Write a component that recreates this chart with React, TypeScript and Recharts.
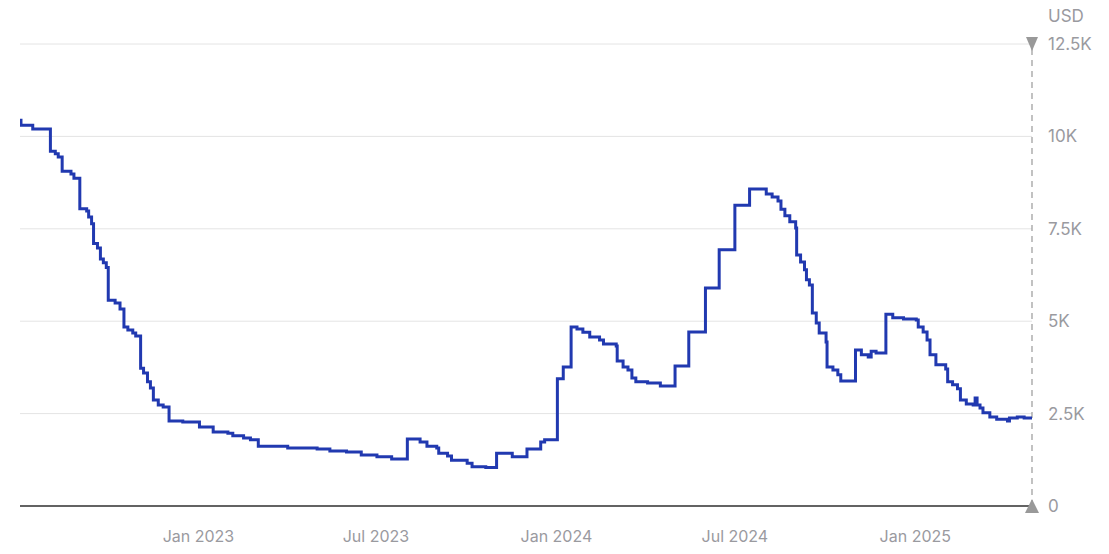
import React from 'react';
import { LineChart, Line, XAxis, YAxis, CartesianGrid, ReferenceDot, ReferenceLine } from 'recharts';

const dates = [
  '2022-07-03','2022-07-04','2022-07-16','2022-08-03','2022-08-08','2022-08-11','2022-08-15','2022-08-24','2022-08-27',
  '2022-09-02','2022-09-09','2022-09-11','2022-09-14','2022-09-16','2022-09-20','2022-09-23','2022-09-26','2022-09-29',
  '2022-10-01','2022-10-08','2022-10-13','2022-10-17','2022-10-21','2022-10-26','2022-10-29','2022-11-03','2022-11-06',
  '2022-11-10','2022-11-13','2022-11-16','2022-11-21','2022-11-26','2022-12-02','2022-12-16','2023-01-02','2023-01-16',
  '2023-01-31','2023-02-05','2023-02-16','2023-02-23','2023-03-03','2023-04-02','2023-05-02','2023-05-15','2023-06-01',
  '2023-06-16','2023-07-02','2023-07-17','2023-08-02','2023-08-15','2023-08-22','2023-09-01','2023-09-03','2023-09-12',
  '2023-09-16','2023-10-02','2023-10-07','2023-10-21','2023-11-01','2023-11-17','2023-12-02','2023-12-16','2023-12-20',
  '2024-01-02','2024-01-08','2024-01-16','2024-01-22','2024-01-28','2024-02-04','2024-02-14','2024-02-18','2024-03-02',
  '2024-03-03','2024-03-09','2024-03-14','2024-03-18','2024-03-22','2024-04-03','2024-04-16','2024-05-01','2024-05-15',
  '2024-06-01','2024-06-15','2024-07-01','2024-07-16','2024-08-02','2024-08-08','2024-08-14','2024-08-17','2024-08-21',
  '2024-08-26','2024-09-01','2024-09-02','2024-09-06','2024-09-10','2024-09-12','2024-09-15','2024-09-18','2024-09-22',
  '2024-09-25','2024-10-02','2024-10-03','2024-10-09','2024-10-14','2024-10-17','2024-11-01','2024-11-07','2024-11-14',
  '2024-11-17','2024-11-22','2024-12-02','2024-12-09','2024-12-20','2025-01-02','2025-01-04','2025-01-09','2025-01-13',
  '2025-01-16','2025-01-22','2025-02-01','2025-02-03','2025-02-08','2025-02-13','2025-02-16','2025-02-22','2025-03-01',
  '2025-03-03','2025-03-05','2025-03-08','2025-03-11','2025-03-18','2025-03-25','2025-04-05','2025-04-07','2025-04-15',
  '2025-04-22','2025-04-30',
];

const prices = [
  10440,10300,10200,9600,9530,9440,9060,8980,8870,
  8040,7980,7820,7640,7100,6980,6680,6580,6450,
  5570,5490,5330,4840,4760,4680,4600,3730,3600,
  3360,3190,2870,2730,2680,2300,2270,2140,2000,
  1970,1900,1840,1790,1620,1570,1540,1490,1460,
  1380,1330,1270,1810,1730,1620,1570,1430,1350,
  1240,1160,1060,1040,1430,1330,1540,1730,1790,
  3440,3760,4840,4790,4700,4570,4490,4380,4330,
  3920,3760,3680,3460,3360,3330,3250,3790,4710,
  5900,6930,8140,8580,8440,8360,8250,8030,7850,
  7690,7520,6790,6600,6390,6120,5980,5220,4950,
  4680,4440,3760,3680,3550,3380,4220,4090,4030,
  4190,4140,5190,5090,5060,5030,4840,4710,4490,
  4090,3820,3710,3360,3280,3170,2870,2760,2730,
  2920,2730,2650,2520,2410,2350,2300,2380,2410,
  2380,2350,
];

const xTickDates = ['2023-01-01', '2023-07-01', '2024-01-01', '2024-07-01', '2025-01-01'];
const xTickLabels = ['Jan 2023', 'Jul 2023', 'Jan 2024', 'Jul 2024', 'Jan 2025'];
const yTicks = [0, 2500, 5000, 7500, 10000, 12500];
const yTickLabels = ['0', '2.5K', '5K', '7.5K', '10K', '12.5K'];
const domainStart = '2022-07-03';
const domainEnd = '2025-04-30';

const toT = (d: string) => Date.parse(d + 'T00:00:00Z');
const data = dates.map((d, i) => ({ t: toT(d), v: prices[i] }));
const xTicks = xTickDates.map(toT);
const startT = toT(domainStart);
const endT = toT(domainEnd);

const FONT = 'Inter, "Noto Sans", sans-serif';
const GREY = '#9a9a9f';

const DownTri = (props: any) => {
  const { cx, cy } = props;
  return <path d={`M${cx - 6},${cy - 7} L${cx + 6},${cy - 7} L${cx},${cy + 7} Z`} fill="#999999" />;
};
const UpTri = (props: any) => {
  const { cx, cy } = props;
  return <path d={`M${cx - 7},${cy + 7} L${cx + 7},${cy + 7} L${cx},${cy - 7} Z`} fill="#999999" />;
};

export default function App() {
  return (
    <div style={{ position: 'absolute', left: 0, top: 0, width: 1109, height: 554, background: '#fff' }}>
      <div style={{ position: 'absolute', left: 1048, top: 6, fontFamily: FONT, fontSize: 17, color: GREY }}>USD</div>
      <LineChart width={1109} height={554} data={data} margin={{ top: 44, right: 0, left: 20, bottom: 18 }}>
        <CartesianGrid vertical={false} stroke="#e4e4e4" strokeWidth={1} />
        <XAxis
          dataKey="t"
          type="number"
          scale="time"
          domain={[startT, endT]}
          ticks={xTicks}
          tickFormatter={(v: number) => xTickLabels[xTicks.indexOf(v)] ?? ''}
          axisLine={{ stroke: '#333333', strokeWidth: 1.5 }}
          tickLine={false}
          tickSize={0}
          tickMargin={25}
          height={30}
          tick={{ fill: GREY, fontSize: 16, fontFamily: FONT }}
          allowDataOverflow
        />
        <YAxis
          orientation="right"
          type="number"
          domain={[0, 12500]}
          ticks={yTicks}
          tickFormatter={(v: number) => yTickLabels[yTicks.indexOf(v)] ?? ''}
          axisLine={false}
          tickLine={false}
          tickSize={0}
          tickMargin={16}
          width={77}
          tick={{ fill: GREY, fontSize: 17, fontFamily: FONT, textAnchor: 'start' }}
        />
        <ReferenceLine x={endT} stroke="#999999" strokeWidth={1.2} strokeDasharray="6 5" ifOverflow="visible" />
        <Line
          type="stepAfter"
          dataKey="v"
          stroke="#2139b0"
          strokeWidth={3}
          dot={false}
          isAnimationActive={false}
        />
        <ReferenceDot x={endT} y={12500} r={7} shape={DownTri} ifOverflow="visible" />
        <ReferenceDot x={endT} y={0} r={7} shape={UpTri} ifOverflow="visible" />
      </LineChart>
    </div>
  );
}
